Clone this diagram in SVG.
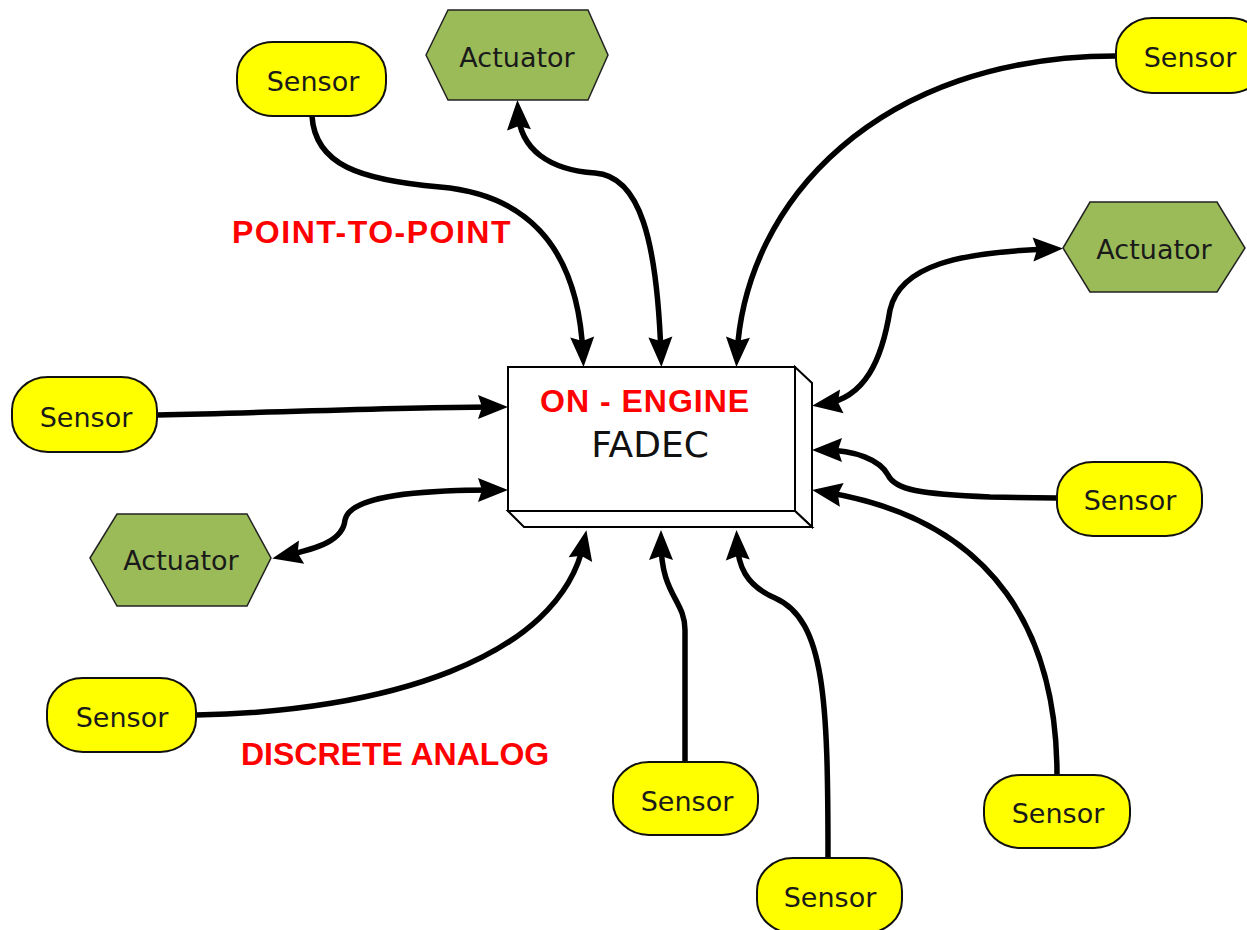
<svg xmlns="http://www.w3.org/2000/svg" width="1247" height="930" viewBox="0 0 1247 930">
  <style>
    .sensor rect { fill: #ffff00; stroke: #111; stroke-width: 2; }
    .actuator polygon { fill: #9bbb59; stroke: #222; stroke-width: 1.5; }
    .lbl { font-family: "DejaVu Sans", Verdana, sans-serif; font-size: 27px; fill: #1a1a1a; text-anchor: middle; }
    .tag { font-family: "Liberation Sans", Arial, sans-serif; font-weight: bold; font-size: 32px; fill: #ff0000; }
    .wire { fill: none; stroke: #000; stroke-width: 5.5; }
    .one { marker-end: url(#head); }
    .two { marker-start: url(#head); marker-end: url(#head); }
    .box { fill: #fff; stroke: #000; stroke-width: 2; stroke-linejoin: miter; }
  </style>
  <defs>
    <!-- solid arrowhead with a shallow notch; tip sits 12px beyond the path end -->
    <marker id="head" markerUnits="userSpaceOnUse" orient="auto-start-reverse" refX="-12" refY="0" markerWidth="40" markerHeight="30" overflow="visible">
      <path d="M0,0 L-30,-12 L-26,0 L-30,12 Z" fill="#000"/>
    </marker>
  </defs>

  <rect width="1247" height="930" fill="#fff"/>

  <!-- central unit -->
  <g id="fadec">
    <polygon class="box" points="795,367 812,383 812,527 795,511"/>
    <polygon class="box" points="508,511 795,511 812,527 524,527"/>
    <rect class="box" x="508" y="367" width="287" height="144"/>
    <text class="tag" x="540" y="412" style="letter-spacing:1px">ON - ENGINE</text>
    <text x="650" y="457" font-family="DejaVu Sans, Verdana, sans-serif" font-size="36" fill="#111" text-anchor="middle">FADEC</text>
  </g>

  <!-- links -->
  <g id="connectors">
    <path class="wire one" d="M312,116 C315,165 360,180 440,187 C520,194 578,240 583,355"/>
    <path class="wire two" d="M518,112 C520,150 550,170 595,173 C640,176 657,240 661,355"/>
    <path class="wire one" d="M1116,56 C880,56 745,200 737,355"/>
    <path class="wire two" d="M1051,249 C960,252 900,265 890,310 C882,360 865,398 824,404"/>
    <path class="wire one" d="M157,415 C300,412 400,407 496,407"/>
    <path class="wire two" d="M284,556 C320,548 343,540 345,520 C350,495 420,490 496,490"/>
    <path class="wire one" d="M196,715 C380,712 560,660 584,542"/>
    <path class="wire one" d="M685,762 L685,630 C685,600 661,595 661,542"/>
    <path class="wire one" d="M828,858 C828,700 825,620 775,598 C745,585 738,565 737,542"/>
    <path class="wire one" d="M1057,498 L990,497 C920,494 895,490 888,475 C880,460 855,450 824,450"/>
    <path class="wire one" d="M1057,775 C1057,640 1000,520 824,492"/>
  </g>

  <!-- sensors -->
  <g id="sensor-1" class="sensor"><rect x="237" y="42" width="149" height="74" rx="36" ry="33"/><text class="lbl" x="313" y="91">Sensor</text></g>
  <g id="sensor-2" class="sensor"><rect x="1116" y="18" width="150" height="75" rx="36" ry="33"/><text class="lbl" x="1190" y="67">Sensor</text></g>
  <g id="sensor-3" class="sensor"><rect x="12" y="377" width="145" height="75" rx="36" ry="33"/><text class="lbl" x="86" y="427">Sensor</text></g>
  <g id="sensor-4" class="sensor"><rect x="47" y="678" width="149" height="74" rx="36" ry="33"/><text class="lbl" x="122" y="727">Sensor</text></g>
  <g id="sensor-5" class="sensor"><rect x="613" y="762" width="145" height="73" rx="36" ry="33"/><text class="lbl" x="687" y="811">Sensor</text></g>
  <g id="sensor-6" class="sensor"><rect x="757" y="858" width="145" height="75" rx="36" ry="33"/><text class="lbl" x="830" y="907">Sensor</text></g>
  <g id="sensor-7" class="sensor"><rect x="1057" y="462" width="145" height="74" rx="36" ry="33"/><text class="lbl" x="1130" y="510">Sensor</text></g>
  <g id="sensor-8" class="sensor"><rect x="984" y="775" width="146" height="73" rx="36" ry="33"/><text class="lbl" x="1058" y="823">Sensor</text></g>

  <!-- actuators -->
  <g id="actuator-1" class="actuator"><polygon points="426,55 448,10 588,10 608,55 588,100 448,100"/><text class="lbl" x="517" y="67">Actuator</text></g>
  <g id="actuator-2" class="actuator"><polygon points="1063,248 1090,202 1217,202 1245,248 1217,292 1090,292"/><text class="lbl" x="1154" y="259">Actuator</text></g>
  <g id="actuator-3" class="actuator"><polygon points="90,558 117,514 247,514 271,558 247,606 117,606"/><text class="lbl" x="181" y="570">Actuator</text></g>

  <!-- captions -->
  <text class="tag" x="232" y="243" style="letter-spacing:1.5px">POINT-TO-POINT</text>
  <text class="tag" x="241" y="765">DISCRETE ANALOG</text>
</svg>
